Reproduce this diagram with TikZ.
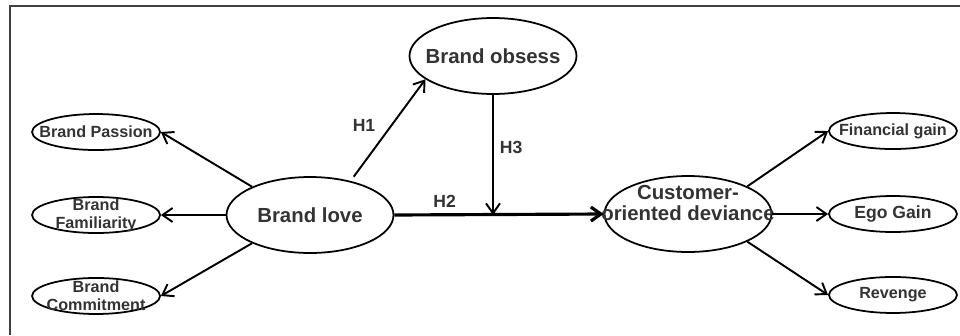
\documentclass[tikz,border=0pt]{standalone}
\usepackage{fontspec}
\setmainfont{Liberation Sans}
\usetikzlibrary{shapes.geometric,arrows.meta}

\begin{document}
\begin{tikzpicture}[x=0.02cm, y=-0.02cm, ->, >={Straight Barb[length=2mm,width=2.8mm]}, auto, line width=1.1pt]
\tikzstyle{big}=[ellipse, draw=black, line width=1pt, minimum width=3.34cm, minimum height=1.52cm]
\tikzstyle{small}=[ellipse, draw=black, line width=1pt, minimum width=2.56cm, minimum height=0.72cm]
\tikzstyle{bigtext}=[align=center, text=black!80, font=\bfseries\fontsize{11.6}{12}\selectfont]
\tikzstyle{smalltext}=[align=center, text=black!80, font=\bfseries\fontsize{9.2}{10.3}\selectfont]
\tikzstyle{hyp}=[text=black!80, font=\bfseries\fontsize{10}{12}\selectfont]
\useasboundingbox (0,0) rectangle (960,335);
% frame
\draw[-, line width=0.6pt, black!75] (10,335) -- (10,6) -- (960,6);

\node[big, label={[bigtext]center:Brand love}]    (love)   at (310,215) {};
\node[big, label={[bigtext]center:Brand obsess}]  (obsess) at (493,56)  {};
\node[big, label={[bigtext, yshift=0.22cm]center:Customer-\\oriented deviance}] (dev) at (688,214) {};

\node[small, label={[smalltext]center:Brand\\Familiarity}] (fam)     [left of=love, node distance=4.28cm] {};
\node[small, label={[smalltext]center:Brand Passion}]      (passion) [above of=fam, node distance=1.66cm] {};
\node[small, label={[smalltext]center:Brand\\Commitment}]  (commit)  [below of=fam, node distance=1.62cm] {};

\node[small, label={[smalltext, font=\bfseries\fontsize{10}{11}\selectfont]center:Ego Gain}] (ego) [right of=dev, node distance=4.1cm] {};
\node[small, label={[smalltext]center:Financial gain}]  (fin) [above of=ego, node distance=1.66cm] {};
\node[small, label={[smalltext]center:Revenge}]         (rev) [below of=ego, node distance=1.62cm] {};

\coordinate (join) at (obsess.south |- love.east);

\draw (love.154) -- (passion.east);
\draw (love.west) -- (fam.east);
\draw (love.206) -- (commit.east);
\draw[shorten <=3pt] (love.40) -- node[hyp, pos=0.42]{H1} (obsess.199);
\draw[line width=1.8pt] (love.east) -- node[hyp, pos=0.24]{H2} (dev.west);
\draw (obsess.south) -- node[hyp, pos=0.44]{H3} (join);
\draw (dev.25) -- (fin.west);
\draw (dev.east) -- (ego.west);
\draw (dev.-25) -- (rev.west);
\end{tikzpicture}
\end{document}
